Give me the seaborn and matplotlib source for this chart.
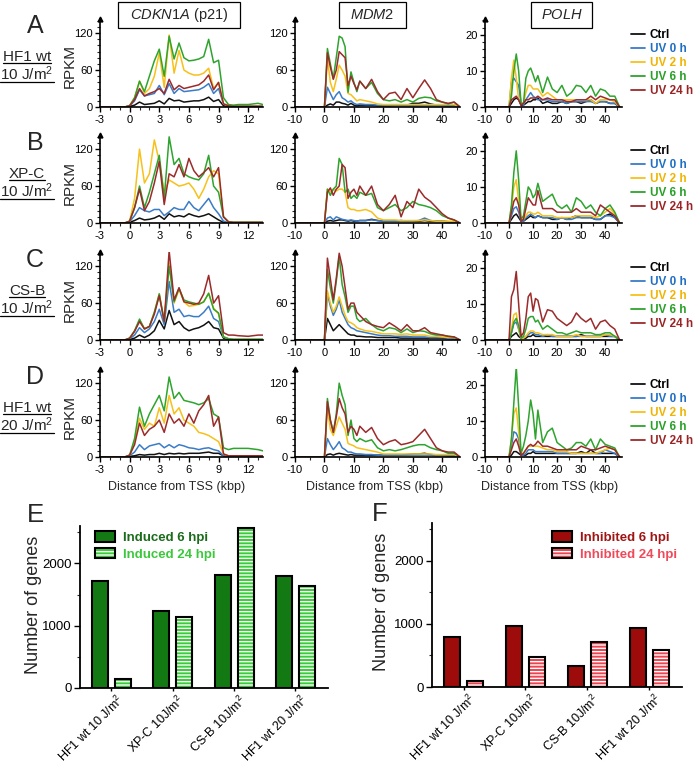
import numpy as np
import pandas as pd
import matplotlib
matplotlib.use("Agg")
import matplotlib.pyplot as plt
import seaborn as sns
from matplotlib.lines import Line2D
from matplotlib.patches import Rectangle, Patch
from matplotlib.ticker import MultipleLocator
from matplotlib.transforms import ScaledTranslation

# ---------------- data ----------------
SERIES = ["Ctrl", "UV 0 h", "UV 2 h", "UV 6 h", "UV 24 h"]

X_P21 = [-3, -0.5, 0, 0.5, 1, 1.5, 2, 2.5, 3, 3.5, 4, 4.5, 5, 5.5, 6, 6.5, 7, 7.5,
         8, 8.5, 9, 9.5, 10, 10.5, 11, 12, 13, 13.5]
X_LONG = [-10, -0.5, 0, 1, 2, 3, 4, 5, 6, 7, 8, 9, 10, 11, 12, 14, 16, 18, 20, 22,
          24, 26, 28, 30, 32, 34, 36, 38, 40, 42, 44, 46]

A_P21 = {
    "Ctrl":    [0,0,1,3,8, 4,5,6,10,5, 14,10,11,8,9, 10,10,12,16,9, 12,2,1,1,1, 1,1,1],
    "UV 0 h":  [0,0,2,10,28, 18,20,22,35,20, 38,22,30,25,26, 27,28,32,38,22, 30,5,2,1,1, 1,1,1],
    "UV 2 h":  [0,0,2,15,42, 22,30,50,88,32, 117,55,92,60,55, 52,52,55,63,30, 40,5,2,1,1, 1,1,1],
    "UV 6 h":  [0,0,2,15,42, 25,50,75,94,50, 115,78,104,80,75, 76,78,82,110,72, 76,15,4,3,4, 4,6,4],
    "UV 24 h": [0,0,2,12,30, 18,22,25,30,22, 45,28,35,30,32, 34,36,42,52,28, 40,5,2,1,1, 1,1,1],
}
B_P21 = {
    "Ctrl":    [0,0,1,4,8, 5,6,8,12,6, 15,10,12,10,15, 12,10,12,15,10, 5,1,0,0,0, 0,0,0],
    "UV 0 h":  [0,0,2,12,25, 20,18,22,22,12, 18,25,22,22,35, 25,20,30,40,25, 15,3,1,1,1, 1,1,1],
    "UV 2 h":  [0,0,3,40,120, 65,80,135,100,50, 70,65,60,62,65, 55,40,55,75,85, 80,10,2,1,1, 1,1,1],
    "UV 6 h":  [0,0,3,25,60, 25,50,80,110,40, 140,95,105,80,75, 72,70,80,110,60, 50,10,2,1,1, 1,1,1],
    "UV 24 h": [0,0,3,25,55, 20,35,65,100,30, 80,75,95,75,105, 85,75,82,90,75, 90,10,2,1,1, 1,1,1],
}
C_P21 = {
    "Ctrl":    [0,0,1,3,8, 4,8,15,32,18, 48,25,30,20,15, 18,20,24,30,20, 18,3,1,0,0, 0,0,0],
    "UV 0 h":  [0,0,2,8,20, 12,18,30,50,25, 95,45,50,38,40, 38,38,45,55,35, 30,5,2,1,1, 1,1,1],
    "UV 2 h":  [0,0,3,15,32, 18,22,45,75,32, 125,60,82,62,55, 56,58,62,76,52, 42,5,2,1,1, 1,1,1],
    "UV 6 h":  [0,0,3,15,34, 18,22,45,75,30, 120,62,84,65,62, 60,58,62,76,50, 44,5,2,1,1, 1,1,1],
    "UV 24 h": [0,0,3,14,30, 18,22,42,72,30, 145,65,85,62,60, 58,60,75,105,60, 72,12,8,8,7, 6,8,8],
}
D_P21 = {
    "Ctrl":    [0,0,1,2,4, 3,4,4,6,4, 6,5,6,5,6, 6,6,7,8,6, 6,2,1,1,1, 1,1,1],
    "UV 0 h":  [0,0,2,8,20, 12,18,20,22,15, 20,15,20,18,15, 14,12,14,15,12, 10,2,1,1,1, 1,1,1],
    "UV 2 h":  [0,0,3,25,63, 45,55,50,80,55, 100,70,80,60,55, 50,40,38,35,30, 25,5,2,2,2, 2,2,2],
    "UV 6 h":  [0,0,3,30,81, 50,70,85,100,75, 130,95,105,92,90, 88,85,88,95,70, 65,15,12,14,14, 14,12,10],
    "UV 24 h": [0,0,3,20,55, 35,45,50,60,40, 70,55,62,50,70, 55,75,85,100,50, 65,5,2,2,2, 2,2,2],
}

A_MDM2 = {
    "Ctrl":    [0,0,0,3,5, 3,8,8,6,5, 3,6,3,2,3, 3,3,2,2,2, 3,3,3,6,6, 8,5,3,3,2, 3,0],
    "UV 0 h":  [0,0,0,32,22, 12,20,25,15,12, 8,10,6,4,5, 4,4,3,2,2, 2,2,2,2,2, 2,2,2,2,2, 2,0],
    "UV 2 h":  [0,0,0,80,40, 25,45,68,60,50, 22,20,15,10,12, 10,8,5,4,4, 4,4,4,4,4, 4,4,4,4,4, 4,0],
    "UV 6 h":  [0,0,0,95,70, 46,80,115,112,98, 24,57,40,25,42, 30,40,22,12,10, 12,8,12,8,14, 16,15,10,8,5, 8,0],
    "UV 24 h": [0,0,0,88,65, 45,60,90,85,80, 35,50,38,28,42, 30,45,25,12,22, 24,12,30,15,30, 44,30,12,8,6, 8,0],
}
B_MDM2 = {
    "Ctrl":    [0,0,0,3,4, 3,4,5,5,4, 3,4,3,3,4, 4,6,4,3,3, 3,4,3,3,3, 4,3,3,3,2, 2,0],
    "UV 0 h":  [0,0,0,8,10, 5,10,8,6,5, 4,5,4,3,4, 4,5,4,3,3, 3,3,3,3,4, 8,4,3,3,2, 2,0],
    "UV 2 h":  [0,0,0,55,50, 55,52,55,55,50, 25,22,22,20,20, 22,18,8,5,5, 5,4,4,4,4, 5,4,3,3,3, 3,0],
    "UV 6 h":  [0,0,0,55,45, 55,60,105,95,50, 55,40,45,40,50, 45,48,25,20,25, 30,20,25,35,30, 28,25,20,12,8, 5,0],
    "UV 24 h": [0,0,0,50,57, 45,55,60,95,90, 40,50,55,45,60, 45,60,30,20,30, 45,10,35,25,55, 42,35,25,15,8, 5,0],
}
C_MDM2 = {
    "Ctrl":    [0,0,0,35,25, 15,20,25,20,15, 10,8,8,6,6, 5,5,4,4,4, 4,3,3,3,3, 3,3,3,3,2, 2,0],
    "UV 0 h":  [0,0,0,75,55, 40,50,65,45,35, 25,20,18,15,14, 12,10,8,7,7, 6,6,6,5,5, 5,4,4,4,3, 3,0],
    "UV 2 h":  [0,0,0,80,60, 45,55,70,55,40, 30,28,25,20,18, 15,14,12,10,10, 10,9,10,8,8, 8,6,6,5,4, 4,0],
    "UV 6 h":  [0,0,0,115,85, 60,95,136,90,70, 45,55,55,35,30, 35,25,18,15,20, 18,12,18,12,15, 14,10,8,8,6, 5,0],
    "UV 24 h": [0,0,0,133,100, 65,100,141,120,85, 50,60,60,45,40, 30,25,22,20,28, 22,15,25,15,15, 20,12,10,8,6, 5,0],
}
D_MDM2 = {
    "Ctrl":    [0,0,0,4,5, 3,5,6,5,4, 3,4,3,3,3, 3,3,3,3,3, 3,3,4,5,5, 6,4,3,3,2, 2,0],
    "UV 0 h":  [0,0,0,30,20, 12,18,25,15,12, 8,8,6,5,5, 4,4,3,3,3, 3,3,3,3,3, 3,3,2,2,2, 2,0],
    "UV 2 h":  [0,0,0,80,45, 35,50,65,55,45, 22,20,18,15,14, 12,10,8,5,5, 5,5,5,5,5, 5,5,4,4,4, 4,0],
    "UV 6 h":  [0,0,0,95,60, 40,70,120,100,85, 35,60,30,25,30, 25,28,15,10,12, 10,12,15,18,20, 20,15,12,10,6, 6,0],
    "UV 24 h": [0,0,0,90,60, 40,65,95,80,70, 40,50,45,35,50, 40,48,30,20,25, 28,20,22,25,35, 45,30,15,10,8, 8,0],
}

A_POLH = {
    "Ctrl":    [0,0,0,1,2, 2.5,2,0.5,0.5,1, 1.5,1.5,2,2,2.5, 1,1.5,1,1,1.5, 1,1.5,1.5,1,1.5, 2,1,1.5,1.5,1, 1,0],
    "UV 0 h":  [0,0,0,7,8, 7,6,1,0.5,2, 3,4,3,2.5,2, 2,2,1.5,1.5,1.5, 1,1.5,1.5,1.5,1.5, 1.5,1,1.5,1.5,1, 1,0],
    "UV 2 h":  [0,0,0,8,13, 8,2,1,1,4, 6,6,5,5,5, 3,4,3,2,2, 2,2,2,2,2, 2,1,2,2,2, 1.5,0],
    "UV 6 h":  [0,0,0,3,10, 14.7,10,1,1,8, 10,10.8,9,7,8.7, 4,8.3,5,4,6, 3,4,6,5.7,4, 6,3,5,4.5,3, 3,0],
    "UV 24 h": [0,0,0,2,2.5, 3,2,0.5,1,2, 2,2.5,2.5,2.5,3, 2,2.5,2,2,2, 1.5,1.5,2,2,2, 3,2,3,2.5,2, 2,0],
}
B_POLH = {
    "Ctrl":    [0,0,0,1,2, 2.5,1.5,0.5,0.5,1, 1.5,2,1.5,1.5,2, 1.5,1.5,1,1,1.5, 1,1.5,2,1.5,1.5, 1.5,1,1,2,2.5, 1.5,0],
    "UV 0 h":  [0,0,0,2,4, 4.5,3,0.5,0.5,1.5, 2,2.5,2,1.5,2, 1.5,1.5,1.5,1,1.5, 1,1,1.5,1.5,1.5, 1.5,1,1,2,2, 1.5,0],
    "UV 2 h":  [0,0,0,4,10, 12,6,1,1,2, 3,3,2.5,2.5,3, 2,2,2,1.5,1.5, 1.5,1.5,2,2,2, 2,1.5,2,3,4, 2.5,0],
    "UV 6 h":  [0,0,0,5,14, 20,12,1,2,6, 10,9,7,8,11, 6,7,8,5,4, 5,3,7,6,4, 5,3,2,4,5, 3,0],
    "UV 24 h": [0,0,0,3,6, 7,5,0.5,1,4, 7,6,5,5,9, 4,4,4,3,3, 3,3,4,3,3, 3,2,5,4,3, 2,0],
}
C_POLH = {
    "Ctrl":    [0,0,0,1,1.5, 2,1,0.5,0.5,0.5, 1,1,1.5,1,1, 1,1,1,1,1, 1,1,1,1.5,1, 1,1,1,1,1, 1,0],
    "UV 0 h":  [0,0,0,2,4.5, 5,3,0.5,0.5,1, 1.5,2,2,1.5,1.5, 1,1.5,1,1,1, 1,1,1,1,1, 1,1,1,1.5,1, 1,0],
    "UV 2 h":  [0,0,0,3,7, 7.5,3,0.5,0.5,1, 2,2.5,2.5,2,2, 1.5,1.5,1.5,1,1, 1,1,1.5,1,1, 1,1,1,1.5,1.5, 1,0],
    "UV 6 h":  [0,0,0,2,5, 6,4,0.5,1,3, 6,6.5,6.5,5,5.5, 3,4,3,2,2, 1.5,2,2.5,2,2, 2,1.5,1.5,2,2, 1,0],
    "UV 24 h": [0,0,0,12,14, 19,10,1,2,6, 12,13,8,11.5,11, 5,8.4,8,6,5, 4,5,7.5,6,5, 6,3,5,5.5,4, 3,0],
}
D_POLH = {
    "Ctrl":    [0,0,0,0.5,1.5, 1.5,1,0.5,0.5,0.5, 1,1,1.5,1,1, 1,1,1,1,1, 1,1,1,1.5,1, 2,1,1,1,1, 1,0],
    "UV 0 h":  [0,0,0,3,7, 6.6,5,0.5,0.5,1, 2,2,2,1.5,1.5, 1.5,1.5,1.5,1,1, 1,1,1,1,1, 1,1,1,2,1.5, 1,0],
    "UV 2 h":  [0,0,0,5,12, 13.6,7,1,1,2, 3,3,3,3,3, 2.5,2,2,1.5,1.5, 1.5,1,1,1,1, 1,1,1.5,2,2.5, 2,0],
    "UV 6 h":  [0,0,0,5,15, 25,14,1,3,6, 10,15.8,12,5,13, 4,7,8,4,3, 2,2.5,4,4,3, 5,2,5,3.5,3, 2.5,0],
    "UV 24 h": [0,0,0,2,4, 5,3,0.5,1,2, 3,3.5,3,3.5,4.4, 3,3,2.5,2,2, 2,2,2,3,2.5, 2,2,2.5,3,2.5, 2,0],
}

ROW_LETTERS = ["A", "B", "C", "D"]
ROW_CELL = ["HF1 wt", "XP-C", "CS-B", "HF1 wt"]
ROW_DOSE = ["10 J/m$^2$", "10 J/m$^2$", "10 J/m$^2$", "20 J/m$^2$"]
GENES = ["$\\mathit{CDKN1A}$ (p21)", "$\\mathit{MDM2}$", "$\\mathit{POLH}$"]

GROUPS = ["HF1 wt 10 J/m$^2$", "XP-C 10J/m$^2$", "CS-B 10J/m$^2$", "HF1 wt 20 J/m$^2$"]
INDUCED_LABELS = ["Induced 6 hpi", "Induced 24 hpi"]
INDUCED_6 = [1710, 1240, 1820, 1790]
INDUCED_24 = [150, 1145, 2560, 1640]
INHIBITED_LABELS = ["Inhibited 6 hpi", "Inhibited 24 hpi"]
INHIBITED_6 = [790, 975, 330, 928]
INHIBITED_24 = [95, 472, 720, 593]

# ---------------- style ----------------
sns.set_style("ticks")
plt.rcParams["font.family"] = ["Liberation Sans", "DejaVu Sans"]
plt.rcParams["mathtext.fontset"] = "custom"
plt.rcParams["mathtext.rm"] = "Liberation Sans"
plt.rcParams["mathtext.it"] = "Liberation Sans:italic"
plt.rcParams["mathtext.bf"] = "Liberation Sans:bold"
plt.rcParams["axes.unicode_minus"] = False
plt.rcParams["hatch.linewidth"] = 1.0

LINE_COLORS = ["#111111", "#3b7cc7", "#f6c11b", "#2ea42e", "#9b2b2b"]
LEG_COLORS = ["#000000", "#1f6fc4", "#f0b400", "#26a026", "#9a2424"]

W, H = 696, 767
fig = plt.figure(figsize=(W / 100, H / 100), dpi=100)


def add_ax(x0, x1, ybot, ytop):
    return fig.add_axes([x0 / W, 1 - ybot / H, (x1 - x0) / W, (ybot - ytop) / H])


def ftext(x, y, s, **kw):
    return fig.text(x / W, 1 - y / H, s, **kw)


def line_panel(ax, xs, data, xlim, ymax, xticks, yticks, xminor, yminor):
    df = pd.DataFrame({
        "x": np.tile(xs, len(SERIES)),
        "v": np.concatenate([data[s] for s in SERIES]),
        "s": np.repeat(SERIES, len(xs)),
    })
    sns.lineplot(data=df, x="x", y="v", hue="s", hue_order=SERIES,
                 palette=LINE_COLORS, ax=ax, legend=False, linewidth=1.1,
                 estimator=None)
    ax.set_xlim(*xlim)
    ax.set_ylim(0, ymax)
    ax.set_xticks(xticks)
    ax.set_yticks(yticks)
    ax.xaxis.set_minor_locator(MultipleLocator(xminor))
    ax.yaxis.set_minor_locator(MultipleLocator(yminor))
    ax.set_xlabel("")
    ax.set_ylabel("")
    for sp in ["top", "right"]:
        ax.spines[sp].set_visible(False)
    for sp in ["left", "bottom"]:
        ax.spines[sp].set_linewidth(1.2)
        ax.spines[sp].set_color("black")
    ax.tick_params(which="major", length=3.5, width=1, pad=2, labelsize=8,
                   direction="out", colors="black")
    ax.tick_params(which="minor", length=2, width=0.8, direction="out")
    ax.plot([xlim[0]], [ymax], marker="^", color="black", markersize=3.5,
            clip_on=False, zorder=5)


COLS = [(100, 263), (295, 460), (485, 622)]
BASES = [107, 223, 340, 457]
PANEL_H = 88

for i in range(4):
    base = BASES[i]
    p21 = [A_P21, B_P21, C_P21, D_P21][i]
    mdm2 = [A_MDM2, B_MDM2, C_MDM2, D_MDM2][i]
    polh = [A_POLH, B_POLH, C_POLH, D_POLH][i]

    ax1 = add_ax(COLS[0][0], COLS[0][1], base, base - PANEL_H)
    line_panel(ax1, X_P21, p21, (-3, 13.5), 143, [-3, 0, 3, 6, 9, 12],
               [0, 60, 120], 1, 10)
    ax2 = add_ax(COLS[1][0], COLS[1][1], base, base - PANEL_H)
    line_panel(ax2, X_LONG, mdm2, (-10, 46), 143, [-10, 0, 10, 20, 30, 40],
               [0, 60, 120], 5, 10)
    ax3 = add_ax(COLS[2][0], COLS[2][1], base, base - PANEL_H)
    line_panel(ax3, X_LONG, polh, (-10, 47), 24.4, [-10, 0, 10, 20, 30, 40],
               [0, 10, 20], 5, 2)

    handles = [Line2D([0], [0], color=c, lw=1.3) for c in LINE_COLORS]
    ax3.legend(handles, SERIES, loc="upper left",
               bbox_to_anchor=(631 / W, 1 - (base - 78) / H),
               bbox_transform=fig.transFigure, frameon=False,
               prop={"weight": "bold", "size": 8.5}, labelcolor=LEG_COLORS,
               handlelength=1.2, handletextpad=0.4, labelspacing=0.18,
               borderpad=0, borderaxespad=0)

    off = 117 * i
    ftext(35, 33 + off, ROW_LETTERS[i], fontsize=18, ha="center", va="baseline")
    ftext(70, 66 + off, "RPKM", fontsize=11, rotation=90, ha="center", va="center")

underline_texts = []
for i in range(4):
    off = 117 * i
    underline_texts.append(ftext(27, 61 + off, ROW_CELL[i], fontsize=11,
                                 ha="center", va="baseline"))
    underline_texts.append(ftext(27, 80 + off, ROW_DOSE[i], fontsize=11,
                                 ha="center", va="baseline"))

# gene title boxes
for (x0, x1), g in zip([(118, 240), (339, 406), (531, 592)], GENES):
    fig.add_artist(Rectangle((x0 / W, 1 - 28 / H), (x1 - x0) / W, 26 / H,
                             transform=fig.transFigure, fill=False,
                             edgecolor="black", linewidth=0.9))
    ftext((x0 + x1) / 2, 15, g, fontsize=10.5, ha="center", va="center")

for xc in [177, 375, 550]:
    ftext(xc, 487, "Distance from TSS (kbp)", fontsize=9, ha="center", va="center")


# ---------------- bar panels ----------------
def bar_panel(ax, v6, v24, labels, colors, text_colors, leg_xy):
    df = pd.DataFrame({
        "group": GROUPS * 2,
        "kind": [labels[0]] * len(GROUPS) + [labels[1]] * len(GROUPS),
        "value": v6 + v24,
    })
    sns.barplot(data=df, x="group", y="value", hue="kind", hue_order=labels,
                palette=colors, width=0.75, gap=0.31, edgecolor="black",
                linewidth=1.5, saturation=1, ax=ax, legend=False, errorbar=None)
    for p in ax.containers[1]:
        p.set_hatch("-----")
        p.set_edgecolor("white")
        p.set_linewidth(0)
        ax.add_patch(Rectangle(p.get_xy(), p.get_width(), p.get_height(),
                               fill=False, edgecolor="black", linewidth=1.5,
                               zorder=p.get_zorder() + 0.1))
    ax.set_xlim(-0.51, 3.53)
    ax.set_ylim(0, 2600)
    ax.set_yticks([0, 1000, 2000])
    ax.yaxis.set_minor_locator(MultipleLocator(500))
    ax.set_xlabel("")
    ax.set_ylabel("")
    for sp in ["top", "right"]:
        ax.spines[sp].set_visible(False)
    for sp in ["left", "bottom"]:
        ax.spines[sp].set_linewidth(1.3)
        ax.spines[sp].set_color("black")
    ax.tick_params(axis="y", which="major", length=4, width=1, labelsize=9.5,
                   pad=2, colors="black")
    ax.tick_params(axis="y", which="minor", length=2.5, width=0.8)
    ax.tick_params(axis="x", length=2.5, width=1, labelsize=9, pad=1,
                   colors="black")
    shift = ScaledTranslation(5 / 100, 0, fig.dpi_scale_trans)
    for lbl in ax.get_xticklabels():
        lbl.set_rotation(45)
        lbl.set_ha("right")
        lbl.set_va("top")
        lbl.set_rotation_mode("anchor")
        lbl.set_transform(lbl.get_transform() + shift)
    handles = [
        Patch(facecolor=colors[0], edgecolor="black", linewidth=1.5),
        (Patch(facecolor=colors[1], edgecolor="white", hatch="-----", linewidth=0),
         Patch(fill=False, edgecolor="black", linewidth=1.5)),
    ]
    ax.legend(handles, labels, loc="upper left",
              bbox_to_anchor=(leg_xy[0] / W, 1 - leg_xy[1] / H),
              bbox_transform=fig.transFigure, frameon=False,
              prop={"weight": "bold", "size": 9.5}, labelcolor=text_colors,
              handlelength=1.5, handleheight=0.85, handletextpad=0.6,
              labelspacing=0.3, borderpad=0, borderaxespad=0)


axE = add_ax(80, 328, 688, 526)
bar_panel(axE, INDUCED_6, INDUCED_24, INDUCED_LABELS, ["#137a13", "#38cc38"],
          ["#1a6b1a", "#3cc83c"], (95, 531))
axF = add_ax(432, 682, 687, 523)
bar_panel(axF, INHIBITED_6, INHIBITED_24, INHIBITED_LABELS, ["#9e0b0b", "#ea4550"],
          ["#a01414", "#f04a5a"], (552, 531))

ftext(35, 522, "E", fontsize=18.5, ha="center", va="baseline")
ftext(380, 521, "F", fontsize=18.5, ha="center", va="baseline")
ftext(33, 605, "Number of genes", fontsize=13, rotation=90, ha="center", va="center")
ftext(382, 602, "Number of genes", fontsize=13, rotation=90, ha="center", va="center")

# underline sample names
fig.canvas.draw()
renderer = fig.canvas.get_renderer()
for t in underline_texts:
    bb = t.get_window_extent(renderer)
    yy = (bb.y0 + 1) / H
    fig.add_artist(Line2D([bb.x0 / W, bb.x1 / W], [yy, yy],
                          transform=fig.transFigure, color="black", linewidth=0.9))

fig.savefig("out.png", dpi=100)
